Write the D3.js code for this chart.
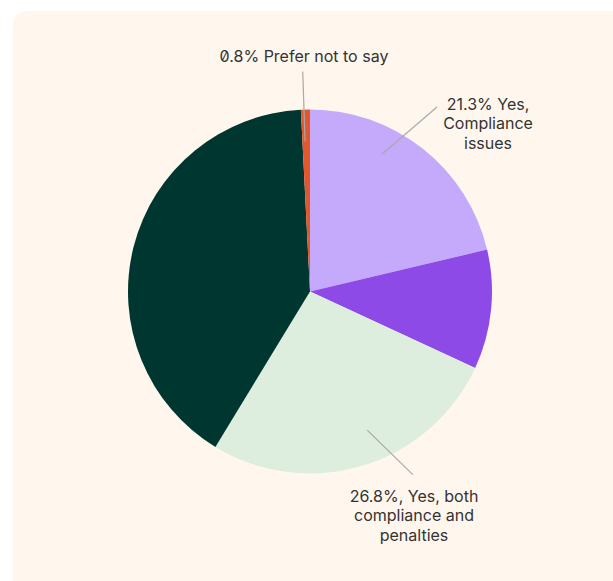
<!DOCTYPE html>
<html>
<head>
<meta charset="utf-8">
<script src="https://cdn.jsdelivr.net/npm/d3@7/dist/d3.min.js"></script>
<style>
  html, body { margin: 0; padding: 0; background: #ffffff; }
  svg { display: block; }
  .label { font-family: Inter, "Noto Sans", sans-serif; font-size: 16px; fill: #333333; font-feature-settings: "zero" 1; }
</style>
</head>
<body>
<svg id="chart" width="613" height="581"></svg>
<script>
// Slices, clockwise from 12 o'clock
const categories = ["Yes, Compliance issues", "Yes, Penalties", "Yes, both compliance and penalties", "No", "Prefer not to say"];
const values = [21.3, 10.6, 26.8, 40.5, 0.8];
const colors = ["#c5a9fb", "#8e4ae6", "#ddeedf", "#003630", "#e2572b"];

// Callout labels: slice index and text lines
const labelSlices = [0, 2, 4];
const labelLines = [
  ["21.3% Yes,", "Compliance", "issues"],
  ["26.8%, Yes, both", "compliance and", "penalties"],
  ["0.8% Prefer not to say"]
];

const width = 613, height = 581;
const cx = 310, cy = 291.5, radius = 182;

const svg = d3.select("#chart");

// card background
svg.append("rect")
  .attr("x", 13).attr("y", 11)
  .attr("width", 640).attr("height", 620)
  .attr("rx", 13).attr("ry", 13)
  .attr("fill", "#fff7ee");

const g = svg.append("g").attr("transform", `translate(${cx},${cy})`);

const pie = d3.pie().sort(null).value(d => d);
const arcs = pie(values);
const arc = d3.arc().innerRadius(0).outerRadius(radius);

g.selectAll("path.slice")
  .data(arcs)
  .join("path")
  .attr("class", "slice")
  .attr("d", arc)
  .attr("fill", (d, i) => colors[i]);

// leader lines: inner end inside the slice, outer end beside the label
// (angle offsets in degrees from the slice's mid angle)
const leaders = [
  { innerShift: -10.7, inner: 155, outerShift: -3.8, outer: 224 },
  { innerShift: -5.5, inner: 150, outerShift: -12.4, outer: 210 },
  { innerShift: -0.45, inner: 150, outerShift: -0.45, outer: 220 }
];
const labelPos = [
  { x: 488, y: 109.5 },
  { x: 414, y: 501.5 },
  { x: 304, y: 61.5 }
];

const rad = deg => deg * Math.PI / 180;
const pt = (a, r) => [Math.sin(a) * r, -Math.cos(a) * r];

labelSlices.forEach((si, k) => {
  const d = arcs[si];
  const mid = (d.startAngle + d.endAngle) / 2;
  const p1 = pt(mid + rad(leaders[k].innerShift), leaders[k].inner);
  const p2 = pt(mid + rad(leaders[k].outerShift), leaders[k].outer);
  g.append("line")
    .attr("x1", p1[0]).attr("y1", p1[1])
    .attr("x2", p2[0]).attr("y2", p2[1])
    .attr("stroke", "#a9a9a9")
    .attr("stroke-width", 1.2);

  const t = svg.append("text")
    .attr("class", "label")
    .attr("text-anchor", "middle")
    .attr("x", labelPos[k].x)
    .attr("y", labelPos[k].y);
  labelLines[k].forEach((line, j) => {
    t.append("tspan")
      .attr("x", labelPos[k].x)
      .attr("dy", j === 0 ? 0 : 19.5)
      .text(line);
  });
});
</script>
</body>
</html>
